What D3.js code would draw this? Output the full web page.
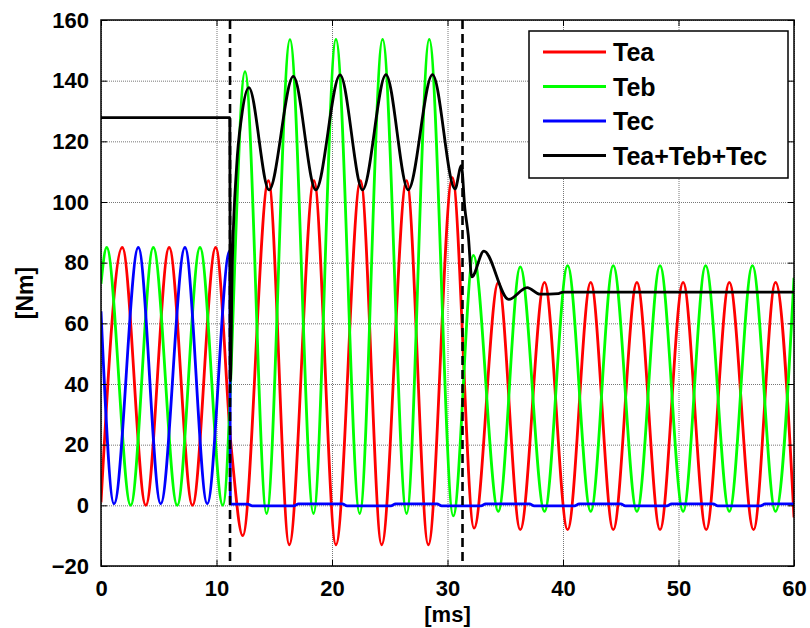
<!DOCTYPE html>
<html>
<head>
<meta charset="utf-8">
<script src="https://cdn.jsdelivr.net/npm/d3@7"></script>
<style>
  body { margin: 0; background: #fff; }
  text { font-family: "Liberation Sans", Arial, sans-serif; font-weight: bold; }
</style>
</head>
<body>
<div id="chart"></div>
<script>
// values: [time ms, torque Nm]
const tea = [[0,1],[1.84,85],[3.88,0],[5.9,85],[7.92,0],[9.93,85],[11.3,18],[12.27,-10],
  [14.5,107],[16.3,-13],[18.44,107],[20.34,-13],[22.47,107],[24.3,-13],[26.46,107],[28.34,-13],
  [30.42,108],[32.3,-7.5],[34.4,73.5],[36.3,-8],[38.4,73.5],[40.4,-8],[42.4,73.5],[44.35,-8],
  [46.4,73.5],[48.4,-8],[50.4,73.5],[52.4,-8],[54.4,73.5],[56.5,-8],[58.4,73.5],[60,-4]];

const teb = [[0,73],[0.49,85],[2.57,0],[4.53,85],[6.6,0],[8.57,85],[10.55,0],[12.47,143],
  [14.34,-2.7],[16.36,153.5],[18.4,-2.7],[20.34,153.6],[22.4,-2.7],[24.38,153.6],[26.46,-2.7],
  [28.42,153.6],[30.5,-3.5],[32.24,82.4],[34.4,-2],[36.3,78.6],[38.4,-2],[40.4,79],[42.4,-2],
  [44.35,79],[46.4,-2],[48.4,79],[50.4,-2],[52.35,79],[54.4,-2],[56.4,79],[58.4,-2],[60,75]];

const tec = [[0,64],[1.13,0.5],[3.23,85],[5.17,0.5],[7.27,85],[9.2,0.5],[11.15,84],[11.2,0.4],
  [12.7,0.4],[13.1,-0.2],[16.7,-0.2],[17.1,0.5],[20.9,0.5],[21.3,-0.2],[25.1,-0.2],[25.5,0.5],
  [29.1,0.5],[29.5,-0.2],[32.9,-0.2],[33.3,0.5],[37.1,0.5],[37.5,-0.2],[41,-0.2],[41.4,0.5],
  [45,0.5],[45.4,-0.2],[49,-0.2],[49.4,0.5],[53,0.5],[53.4,-0.2],[57.1,-0.2],[57.5,0.5],[60,0.5]];

const teSum = [[0,127.8],[11.15,127.8],[11.2,41],[11.35,76],[11.74,111.5],[12.17,128],[12.8,137.7],
  [14.55,104],[16.65,141.4],[18.6,104],[20.7,141.9],[22.65,104],[24.67,142],[26.6,104],[28.7,142],
  [30.65,104.3],[31.2,112],[31.5,98],[31.8,89],[32.1,75.3],[33.15,83.8],[35.3,67.9],[36.9,71.8],
  [38,69.6],[39.6,69.8],[40,70.3],[60,70.3]];

const switchTimes = [11.17, 31.3];
const xTicks = [0, 10, 20, 30, 40, 50, 60];
const yTicks = [-20, 0, 20, 40, 60, 80, 100, 120, 140, 160];

const series = [
  { name: "Tea", data: tea, color: "#ff0000" },
  { name: "Teb", data: teb, color: "#00ff00" },
  { name: "Tec", data: tec, color: "#0000ff" },
  { name: "Tea+Teb+Tec", data: teSum, color: "#000000" }
];

const W = 810, H = 628;
const pl = 101, pr = 794, pt = 20, pb = 566;

const svg = d3.select("#chart").append("svg")
  .attr("width", W).attr("height", H);

const x = d3.scaleLinear().domain([0, 60]).range([pl, pr]);
const y = d3.scaleLinear().domain([-20, 160]).range([pb, pt]);

// grid
svg.append("g")
  .attr("transform", `translate(0,${pb})`)
  .call(d3.axisBottom(x).tickValues(xTicks).tickSize(-(pb - pt)).tickFormat(""))
  .call(g => g.select(".domain").remove())
  .selectAll("line").attr("stroke", "#777").attr("stroke-dasharray", "1,1");
svg.append("g")
  .attr("transform", `translate(${pl},0)`)
  .call(d3.axisLeft(y).tickValues(yTicks).tickSize(-(pr - pl)).tickFormat(""))
  .call(g => g.select(".domain").remove())
  .selectAll("line").attr("stroke", "#777").attr("stroke-dasharray", "1,1");

// curves
svg.append("clipPath").attr("id", "clip")
  .append("rect").attr("x", pl).attr("y", pt)
  .attr("width", pr - pl).attr("height", pb - pt);

const line = d3.line()
  .x(d => x(d[0]))
  .y(d => y(d[1]))
  .curve(d3.curveMonotoneX);

svg.append("g").attr("clip-path", "url(#clip)")
  .selectAll("path")
  .data(series)
  .join("path")
  .attr("d", d => line(d.data))
  .attr("fill", "none")
  .attr("stroke", d => d.color)
  .attr("stroke-width", 2.8)
  .attr("stroke-linejoin", "round");

// dashed switching lines
svg.append("g")
  .selectAll("line")
  .data(switchTimes)
  .join("line")
  .attr("x1", d => x(d)).attr("x2", d => x(d))
  .attr("y1", pt).attr("y2", pb)
  .attr("stroke", "#000")
  .attr("stroke-width", 2.6)
  .attr("stroke-dasharray", "9,5");

// axes, ticks inside
const tickFont = g => g.selectAll("text")
  .attr("font-size", 22).attr("fill", "#000")
  .style("font-family", '"Liberation Sans", Arial, sans-serif').style("font-weight", "bold");

svg.append("g")
  .attr("transform", `translate(0,${pb})`)
  .call(d3.axisBottom(x).tickValues(xTicks).tickSize(-6).tickSizeOuter(0).tickPadding(14))
  .call(g => g.select(".domain").remove())
  .call(tickFont);
svg.append("g")
  .attr("transform", `translate(${pl},0)`)
  .call(d3.axisLeft(y).tickValues(yTicks).tickSize(-6).tickSizeOuter(0).tickPadding(12))
  .call(g => g.select(".domain").remove())
  .call(tickFont);
svg.append("g")
  .attr("transform", `translate(0,${pt})`)
  .call(d3.axisTop(x).tickValues(xTicks).tickSize(-6).tickSizeOuter(0).tickFormat(""))
  .call(g => g.select(".domain").remove());
svg.append("g")
  .attr("transform", `translate(${pr},0)`)
  .call(d3.axisRight(y).tickValues(yTicks).tickSize(-6).tickSizeOuter(0).tickFormat(""))
  .call(g => g.select(".domain").remove());

svg.append("rect")
  .attr("x", pl).attr("y", pt)
  .attr("width", pr - pl).attr("height", pb - pt)
  .attr("fill", "none").attr("stroke", "#000").attr("stroke-width", 1.5);

// axis labels
svg.append("text")
  .attr("x", (pl + pr) / 2).attr("y", 622)
  .attr("text-anchor", "middle").attr("font-size", 22)
  .text("[ms]");
svg.append("text")
  .attr("transform", `translate(33,${(pt + pb) / 2}) rotate(-90)`)
  .attr("text-anchor", "middle").attr("font-size", 23)
  .text("[Nm]");

// legend
const legend = svg.append("g");
legend.append("rect")
  .attr("x", 529).attr("y", 31).attr("width", 259).attr("height", 147)
  .attr("fill", "#fff").attr("stroke", "#000").attr("stroke-width", 1.5);
const item = legend.selectAll("g.item")
  .data(series)
  .join("g")
  .attr("class", "item")
  .attr("transform", (d, i) => `translate(0,${52 + i * 34.5})`);
item.append("line")
  .attr("x1", 543).attr("x2", 606)
  .attr("stroke", d => d.color).attr("stroke-width", 3);
item.append("text")
  .attr("x", 613).attr("dy", "0.36em")
  .attr("font-size", 25)
  .text(d => d.name);
</script>
</body>
</html>
